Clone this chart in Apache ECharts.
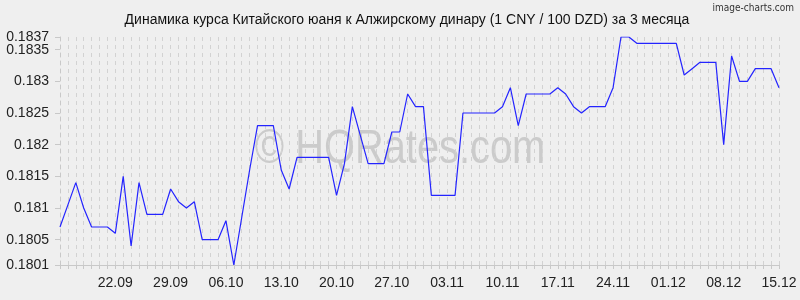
<!DOCTYPE html>
<html>
<head>
<meta charset="utf-8">
<script src="https://cdn.jsdelivr.net/npm/echarts@6/dist/echarts.min.js"></script>
<style>
html,body{margin:0;padding:0;background:#efefef;}
#c{width:800px;height:300px;}
</style>
</head>
<body>
<div id="c"></div>
<script>
var titleText = 'Динамика курса Китайского юаня к Алжирскому динару (1 CNY / 100 DZD) за 3 месяца';
var categories = [
 '15.09','16.09','17.09','18.09','19.09','20.09','21.09','22.09','23.09','24.09','25.09','26.09','27.09','28.09','29.09','30.09',
 '01.10','02.10','03.10','04.10','05.10','06.10','07.10','08.10','09.10','10.10','11.10','12.10','13.10','14.10','15.10','16.10',
 '17.10','18.10','19.10','20.10','21.10','22.10','23.10','24.10','25.10','26.10','27.10','28.10','29.10','30.10','31.10',
 '01.11','02.11','03.11','04.11','05.11','06.11','07.11','08.11','09.11','10.11','11.11','12.11','13.11','14.11','15.11','16.11',
 '17.11','18.11','19.11','20.11','21.11','22.11','23.11','24.11','25.11','26.11','27.11','28.11','29.11','30.11',
 '01.12','02.12','03.12','04.12','05.12','06.12','07.12','08.12','09.12','10.12','11.12','12.12','13.12','14.12','15.12'
];
var rates = [
 0.1807,0.18105,0.1814,0.1810,0.1807,0.1807,0.1807,0.1806,0.1815,0.1804,0.1814,0.1809,0.1809,0.1809,0.1813,0.1811,
 0.1810,0.1811,0.1805,0.1805,0.1805,0.1808,0.1801,0.18085,0.1816,0.1823,0.1823,0.1823,0.1816,0.1813,0.1818,0.1818,
 0.1818,0.1818,0.1818,0.1812,0.1817,0.1826,0.18215,0.1817,0.1817,0.1817,0.1822,0.1822,0.1828,0.1826,0.1826,
 0.1812,0.1812,0.1812,0.1812,0.1825,0.1825,0.1825,0.1825,0.1825,0.1826,0.1829,0.1823,0.1828,0.1828,0.1828,0.1828,
 0.1829,0.1828,0.1826,0.1825,0.1826,0.1826,0.1826,0.1829,0.1837,0.1837,0.1836,0.1836,0.1836,0.1836,
 0.1836,0.1836,0.1831,0.1832,0.1833,0.1833,0.1833,0.1820,0.1834,0.1830,0.1830,0.1832,0.1832,0.1832,0.1829
];
var xTickLabels = ['22.09','29.09','06.10','13.10','20.10','27.10','03.11','10.11','17.11','24.11','01.12','08.12','15.12'];
var yTickValues = [0.1801,0.1805,0.181,0.1815,0.182,0.1825,0.183,0.1835,0.1837];
var yTickValuesA = [0.1801,0.1805,0.181,0.1815,0.182,0.1825,0.183,0.1837];
var yTickValuesB = [0.1835];
var yMin = 0.1801, yMax = 0.1837;

var chart = echarts.init(document.getElementById('c'), null, {renderer:'canvas'});
var fontFam = '"Liberation Sans", Arial, sans-serif';
var gridLines = yTickValues.map(function(v){ return {yAxis: v}; });
function yAxisDef(vals, showLine){
  return {
    type: 'value', min: yMin, max: yMax, position: 'left', offset: 0,
    axisLine: {show: showLine, lineStyle: {color: '#c8c8c8', type: [4,4]}},
    axisTick: {show: true, length: 5, customValues: vals, lineStyle: {color: '#c8c8c8'}},
    axisLabel: {customValues: vals, showMaxLabel: true, showMinLabel: true, hideOverlap: false,
      margin: 11, fontFamily: fontFam, fontSize: 14, color: '#222',
      formatter: function(v){ return String(+(+v).toFixed(4)); }},
    splitLine: {show: false}
  };
}
chart.setOption({
  backgroundColor: '#efefef',
  animation: false,
  title: {
    text: titleText,
    left: 402, top: 8, textAlign: 'center',
    textStyle: {fontFamily: fontFam, fontSize: 14, fontWeight: 'normal', color: '#111'}
  },
  graphic: [
    {type:'text', x: 400, y: 150, z: 0, scaleX: 0.83, scaleY: 1, originX: 0, originY: 0,
     style:{text:'© HQRates.com', font:'48px "Liberation Sans", Arial, sans-serif', fill:'rgba(110,110,110,0.28)', align:'center', verticalAlign:'middle'}},
    {type:'text', right: 6, top: 3,
     style:{text:'image-charts.com', font:'10px "DejaVu Sans Condensed", "Liberation Sans", sans-serif', fill:'#333'}}
  ],
  grid: {left: 60, right: 21, top: 37, bottom: 35, containLabel: false},
  xAxis: {
    type: 'category', data: categories, boundaryGap: false,
    axisLine: {show: true, lineStyle: {color: '#c8c8c8'}},
    axisTick: {show: true, interval: 0, length: 4, inside: false, lineStyle: {color: '#c8c8c8'}},
    axisLabel: {
      interval: function(i, v){ return xTickLabels.indexOf(v) >= 0; },
      margin: 11, fontFamily: fontFam, fontSize: 14, color: '#222'
    },
    splitLine: {show: true, interval: 0, lineStyle: {color: '#d2d2d2', type: [4,4]}}
  },
  yAxis: [yAxisDef(yTickValuesA, true), yAxisDef(yTickValuesB, false)],
  series: [{
    type: 'line', data: rates, yAxisIndex: 0, symbol: 'none', smooth: false,
    lineStyle: {color: '#2424ff', width: 1.2},
    markLine: {silent: true, symbol: 'none', label: {show: false}, animation: false,
      lineStyle: {color: '#cccccc', type: [4,4], width: 1}, data: gridLines}
  }]
});
</script>
</body>
</html>
